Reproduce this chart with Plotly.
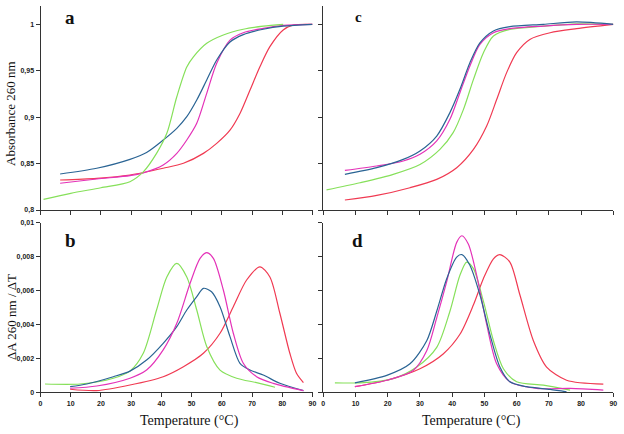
import plotly.graph_objects as go

# ---------------- data ----------------
# Panel a: absorbance vs temperature
a_green_T = [1, 10, 20, 29.6, 34, 38.4, 41.8, 45.1, 48.4, 50.6, 55, 60.5, 67.1, 73.7, 80.3]
a_green_A = [0.8115, 0.818, 0.824, 0.8305, 0.841, 0.861, 0.8826, 0.922, 0.954, 0.965, 0.9796, 0.9886, 0.9947, 0.998, 1.0]
a_blue_T = [6.5, 18.6, 29.6, 35.1, 40.6, 45.1, 48.4, 51.7, 55, 58.3, 62.7, 67.1, 73.7, 80.3, 90]
a_blue_A = [0.8388, 0.845, 0.8546, 0.862, 0.8754, 0.888, 0.9005, 0.9185, 0.94, 0.9616, 0.981, 0.989, 0.9947, 0.998, 1.0]
a_mag_T = [6.5, 18.6, 29.6, 34, 40.6, 45.1, 48.4, 51.7, 55, 58.3, 62.7, 67.1, 73.7, 80.3, 90]
a_mag_A = [0.8288, 0.8334, 0.837, 0.840, 0.8485, 0.861, 0.8754, 0.8934, 0.9257, 0.958, 0.983, 0.991, 0.9957, 0.999, 1.0]
a_red_T = [6.5, 18.6, 29.6, 40.6, 47.3, 53.9, 58.3, 62.7, 66, 69.3, 72.6, 75.9, 80.3, 83.7, 90]
a_red_A = [0.8323, 0.8341, 0.8377, 0.845, 0.8503, 0.861, 0.8718, 0.886, 0.904, 0.929, 0.9543, 0.976, 0.994, 0.9993, 1.0]

# Panel c
c_blue_T = [6.7, 16.6, 24.8, 30, 35.2, 39.3, 42.4, 45.5, 48.6, 52.8, 57.9, 68.3, 78.6, 90]
c_blue_A = [0.8384, 0.8456, 0.8545, 0.8636, 0.8797, 0.9049, 0.930, 0.9587, 0.980, 0.9929, 0.9975, 1.0, 1.0026, 1.0]
c_mag_T = [6.7, 16.6, 24.8, 30, 35.2, 39.3, 42.4, 45.5, 48.6, 52.8, 57.9, 68.3, 78.6, 90]
c_mag_A = [0.8427, 0.8474, 0.8528, 0.860, 0.8744, 0.8977, 0.9264, 0.9552, 0.9784, 0.991, 0.9954, 0.9982, 1.0, 1.0]
c_green_T = [1, 11.4, 21.7, 30, 36.2, 40.3, 43.5, 46.6, 49.7, 52.8, 57.9, 68.3, 78.6, 90]
c_green_A = [0.8216, 0.8294, 0.8384, 0.849, 0.8653, 0.8833, 0.9084, 0.9407, 0.9695, 0.9875, 0.9946, 0.998, 1.0005, 1.0]
c_red_T = [6.7, 16.6, 26.9, 35.2, 41.4, 46.6, 50.7, 53.8, 56.9, 60, 64.1, 70.4, 78.6, 90]
c_red_A = [0.8108, 0.8157, 0.824, 0.833, 0.8456, 0.8653, 0.8905, 0.919, 0.948, 0.9695, 0.9838, 0.991, 0.9954, 1.0]

# Panel b: derivative
b_green_T = [1.5, 13.1, 24.1, 29.6, 34, 38.4, 41.8, 45.1, 48.4, 51.7, 55, 59.4, 64.9, 71.5, 77.6]
b_green_D = [0.00049, 0.00049, 0.00083, 0.00125, 0.0023, 0.00485, 0.0068, 0.0076, 0.0068, 0.00485, 0.0027, 0.00131, 0.00083, 0.00057, 0.0003]
b_blue_T = [9.8, 15.3, 24.1, 29.6, 35.1, 40.6, 45.1, 48.4, 51.7, 53.9, 56.6, 59.4, 62.7, 66, 69.3, 73.7, 79.2, 87]
b_blue_D = [0.00033, 0.00049, 0.00092, 0.00125, 0.0019, 0.00289, 0.00387, 0.00485, 0.00564, 0.00613, 0.00593, 0.00505, 0.00328, 0.00171, 0.00131, 0.00102, 0.00053, 0.0001]
b_mag_T = [9.8, 18.6, 29.6, 35.1, 40.6, 45.1, 49.5, 52.8, 55, 57.2, 60.5, 63.8, 67.1, 71.5, 77, 87]
b_mag_D = [0.00024, 0.00037, 0.00083, 0.00131, 0.0025, 0.00407, 0.00643, 0.0079, 0.00823, 0.0079, 0.00603, 0.00348, 0.00171, 0.00092, 0.00053, 0.0001]
b_red_T = [9.8, 18.6, 29.6, 40.6, 47.3, 53.9, 59.4, 63.8, 68.2, 72.6, 75.9, 79.2, 82.5, 84.7, 87]
b_red_D = [0.00018, 0.0001, 0.00043, 0.00092, 0.00151, 0.0023, 0.00348, 0.00505, 0.00662, 0.0074, 0.0068, 0.00466, 0.0023, 0.00112, 0.00057]

# Panel d
d_blue_T = [9.8, 19.7, 26.9, 32.1, 35.2, 38.3, 41.4, 43, 45.5, 48.6, 51.7, 54.8, 57.9, 63.1, 70.4, 75.5]
d_blue_D = [0.00056, 0.001, 0.00168, 0.00304, 0.00478, 0.0067, 0.00797, 0.00812, 0.00749, 0.00575, 0.00342, 0.00149, 0.00062, 0.00033, 0.00017, 0.00003]
d_mag_T = [9.8, 19.7, 27.9, 32.1, 35.2, 38.3, 41.4, 43, 45, 47.6, 50.7, 53.8, 57.9, 66.2, 76.6, 86.9]
d_mag_D = [0.00033, 0.00071, 0.00129, 0.00245, 0.00439, 0.00652, 0.00884, 0.00923, 0.00874, 0.0069, 0.004, 0.00168, 0.00062, 0.00023, 0.00023, 0.00013]
d_green_T = [3.6, 11.4, 21.7, 29, 35.2, 39.3, 42.4, 44.5, 46.6, 49.7, 52.8, 55.9, 60, 68.3, 76.6]
d_green_D = [0.00056, 0.00056, 0.00081, 0.00149, 0.00265, 0.00478, 0.0069, 0.00768, 0.00729, 0.00536, 0.00304, 0.00139, 0.00062, 0.00042, 0.00013]
d_red_T = [9.8, 19.7, 30, 37.2, 42.4, 46.6, 49.7, 52.8, 54.8, 57.9, 61, 65.2, 69.3, 75.5, 86.9]
d_red_D = [0.00033, 0.00071, 0.00139, 0.00226, 0.00342, 0.00516, 0.00671, 0.00787, 0.00812, 0.00768, 0.00575, 0.00304, 0.00149, 0.00071, 0.00048]

x_ticks = [0, 10, 20, 30, 40, 50, 60, 70, 80, 90]
abs_ticks = [0.8, 0.85, 0.9, 0.95, 1.0]
abs_labels = ["0,8", "0,85", "0,9", "0,95", "1"]
der_ticks = [0, 0.002, 0.004, 0.006, 0.008, 0.01]
der_labels = ["0", "0,002", "0,004", "0,006", "0,008", "0,01"]

GREEN = "#86e05a"
BLUE = "#2a6494"
MAG = "#e432b8"
RED = "#f03a52"

W, H = 624, 434
fig = go.Figure()

def add(T, V, color, xa, ya):
    fig.add_trace(go.Scatter(x=T, y=V, mode="lines", line=dict(color=color, width=1.2, shape="spline", smoothing=0.8),
                             xaxis=xa, yaxis=ya, showlegend=False, hoverinfo="skip"))

# panel a -> x, y ; panel c -> x2, y2 ; panel b -> x3, y3 ; panel d -> x4, y4
add(a_red_T, a_red_A, RED, "x", "y")
add(a_mag_T, a_mag_A, MAG, "x", "y")
add(a_blue_T, a_blue_A, BLUE, "x", "y")
add(a_green_T, a_green_A, GREEN, "x", "y")

add(c_red_T, c_red_A, RED, "x2", "y2")
add(c_green_T, c_green_A, GREEN, "x2", "y2")
add(c_mag_T, c_mag_A, MAG, "x2", "y2")
add(c_blue_T, c_blue_A, BLUE, "x2", "y2")

add(b_red_T, b_red_D, RED, "x3", "y3")
add(b_green_T, b_green_D, GREEN, "x3", "y3")
add(b_blue_T, b_blue_D, BLUE, "x3", "y3")
add(b_mag_T, b_mag_D, MAG, "x3", "y3")

add(d_red_T, d_red_D, RED, "x4", "y4")
add(d_green_T, d_green_D, GREEN, "x4", "y4")
add(d_mag_T, d_mag_D, MAG, "x4", "y4")
add(d_blue_T, d_blue_D, BLUE, "x4", "y4")

tickfont = dict(family="Liberation Sans", size=7, color="#1a1a1a", weight="bold")
left_dom = [40.5 / W, 312.5 / W]
right_dom = [323.3 / W, 613.3 / W]
top_dom = [1 - 210 / H, 1 - 5.8 / H]
bot_dom = [1 - 392.3 / H, 1 - 222.7 / H]

def xax(dom, anchor, labels):
    return dict(domain=dom, anchor=anchor, range=[0, 90], tickvals=x_ticks,
                ticktext=[str(t) for t in x_ticks] if labels else [""] * len(x_ticks),
                ticks="outside", ticklen=4, tickwidth=1, tickcolor="#333",
                showline=True, linecolor="#333", linewidth=1, showgrid=False, zeroline=False,
                tickfont=tickfont, automargin=False)

def yax(dom, anchor, rng, vals, labels, show):
    return dict(domain=dom, anchor=anchor, range=rng, tickvals=vals,
                ticktext=labels if show else [""] * len(vals),
                ticks="outside", ticklen=4, tickwidth=1, tickcolor="#333",
                showline=True, linecolor="#333", linewidth=1, showgrid=False, zeroline=False,
                tickfont=tickfont, automargin=False)

fig.update_layout(
    width=W, height=H, margin=dict(l=0, r=0, t=0, b=0),
    paper_bgcolor="white", plot_bgcolor="white",
    xaxis=xax(left_dom, "y", False),
    yaxis=yax(top_dom, "x", [0.8, 1.02], abs_ticks, abs_labels, True),
    xaxis2=xax(right_dom, "y2", False),
    yaxis2=yax(top_dom, "x2", [0.8, 1.02], abs_ticks, abs_labels, False),
    xaxis3=xax(left_dom, "y3", True),
    yaxis3=yax(bot_dom, "x3", [0, 0.01], der_ticks, der_labels, True),
    xaxis4=xax(right_dom, "y4", True),
    yaxis4=yax(bot_dom, "x4", [0, 0.01], der_ticks, der_labels, False),
)

serif = "Liberation Serif"
def txt(x, y, s, size, bold=False, angle=0):
    fig.add_annotation(x=x / W, y=1 - y / H, xref="paper", yref="paper", text=("<b>%s</b>" % s) if bold else s,
                       showarrow=False, textangle=angle, xanchor="center", yanchor="middle",
                       font=dict(family=serif, size=size, color="#111"))

txt(70, 17, "a", 19, True)
txt(70, 240, "b", 19, True)
txt(358, 17, "c", 15, True)
txt(357, 240, "d", 19, True)
txt(11, 114, "Absorbance 260 nm", 13, angle=-90)
txt(11, 317, "ΔA 260 nm / ΔT", 13, angle=-90)
txt(190, 421, "Temperature (°C)", 14)
txt(471, 421, "Temperature (°C)", 14)

fig.write_html("out.html", config={"displayModeBar": False, "staticPlot": True})

# remove the browser's default page margin so the figure sits at the window's corner
with open("out.html", "r", encoding="utf-8") as f:
    html = f.read()
html = html.replace("<head>", "<head><style>html,body{margin:0;padding:0;overflow:hidden;}</style>", 1)
with open("out.html", "w", encoding="utf-8") as f:
    f.write(html)
